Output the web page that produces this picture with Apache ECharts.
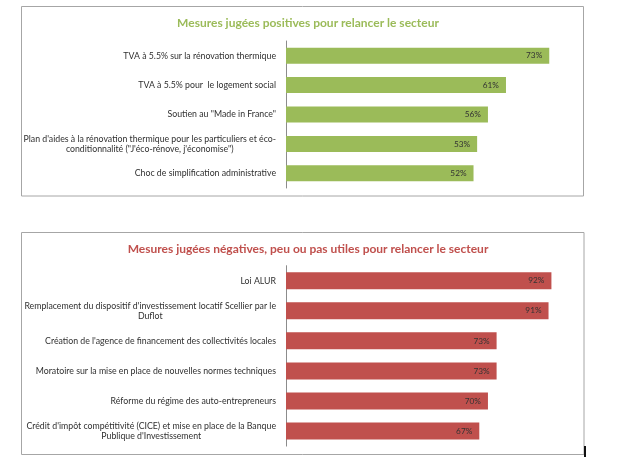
<!DOCTYPE html>
<html>
<head>
<meta charset="utf-8">
<script src="https://cdn.jsdelivr.net/npm/echarts@6/dist/echarts.min.js"></script>
<style>
html,body{margin:0;padding:0;background:#fff;}
#c{width:620px;height:465px;}
</style>
</head>
<body>
<div id="c"></div>
<script>
// ---- Data ----
const titlePositive = "Mesures jugées positives pour relancer le secteur";
const categoriesPositive = [
  "TVA à 5.5% sur la rénovation thermique",
  "TVA à 5.5% pour  le logement social",
  "Soutien au \"Made in France\"",
  "Plan d'aides à la rénovation thermique pour les particuliers et éco-\nconditionnalité (\"J'éco-rénove, j'économise\")",
  "Choc de simplification administrative"
];
const valuesPositive = [73, 61, 56, 53, 52];

const titleNegative = "Mesures jugées négatives, peu ou pas utiles pour relancer le secteur";
const categoriesNegative = [
  "Loi ALUR",
  "Remplacement du dispositif d'investissement locatif Scellier par le\nDuflot",
  "Création de l'agence de financement des collectivités locales",
  "Moratoire sur la mise en place de nouvelles normes techniques",
  "Réforme du régime des auto-entrepreneurs",
  "Crédit d'impôt compétitivité (CICE) et mise en place de la Banque\nPublique d'Investissement"
];
const valuesNegative = [92, 91, 73, 73, 70, 67];

// ---- Styling ----
const FONT = "Lato";
const LABEL_SIZE = 8.75;
const LABEL_COLOR = "#303030";
const GREEN = "#9bbb59";
const RED = "#c0504d";

function catFormatter(v) {
  return v.split("\n").map(s => "{c|" + s + "}").join("\n");
}
function catLabel() {
  return {
    margin: 10,
    fontFamily: FONT,
    fontSize: LABEL_SIZE,
    color: LABEL_COLOR,
    lineHeight: 10,
    formatter: catFormatter,
    rich: { c: { align: "center", fontFamily: FONT, fontSize: LABEL_SIZE, color: LABEL_COLOR, lineHeight: 10 } }
  };
}
function barLabel() {
  return {
    show: true,
    position: "insideRight",
    distance: 7,
    formatter: "{c}%",
    fontFamily: FONT,
    fontSize: 8.25,
    color: "#333333"
  };
}

const chart = echarts.init(document.getElementById("c"), null, { renderer: "canvas" });
chart.setOption({
  animation: false,
  backgroundColor: "#ffffff",
  graphic: [
    { type: "rect", shape: { x: 21.5, y: 6.5, width: 562, height: 189.5 }, style: { fill: "none", stroke: "#a6a6a6", lineWidth: 1 }, z: -1 },
    { type: "rect", shape: { x: 21.5, y: 232.5, width: 562.5, height: 222 }, style: { fill: "none", stroke: "#a6a6a6", lineWidth: 1 }, z: -1 },
    { type: "rect", shape: { x: 584, y: 446, width: 2, height: 11 }, style: { fill: "#111111" } }
  ],
  title: [
    { text: titlePositive, left: 303, top: 12, textAlign: "center",
      textStyle: { fontFamily: FONT, fontWeight: "bold", fontSize: 12, color: GREEN } },
    { text: titleNegative, left: 303, top: 238, textAlign: "center",
      textStyle: { fontFamily: FONT, fontWeight: "bold", fontSize: 12, color: RED } }
  ],
  grid: [
    { left: 286, right: 45.5, top: 41, height: 147 },
    { left: 286, right: 45.5, top: 265.7, height: 180.4 }
  ],
  xAxis: [
    { gridIndex: 0, type: "value", min: 0, max: 80, show: false },
    { gridIndex: 1, type: "value", min: 0, max: 100, show: false }
  ],
  yAxis: [
    { gridIndex: 0, type: "category", inverse: true, data: categoriesPositive,
      axisLine: { show: true, lineStyle: { color: "#8c8c8c", width: 1 } },
      axisTick: { show: false }, splitLine: { show: false }, axisLabel: catLabel() },
    { gridIndex: 1, type: "category", inverse: true, data: categoriesNegative,
      axisLine: { show: true, lineStyle: { color: "#8c8c8c", width: 1 } },
      axisTick: { show: false }, splitLine: { show: false }, axisLabel: catLabel() }
  ],
  series: [
    { type: "bar", xAxisIndex: 0, yAxisIndex: 0, data: valuesPositive, barWidth: 16,
      itemStyle: { color: GREEN }, label: barLabel() },
    { type: "bar", xAxisIndex: 1, yAxisIndex: 1, data: valuesNegative, barWidth: 17,
      itemStyle: { color: RED }, label: barLabel() }
  ]
});
</script>
</body>
</html>
